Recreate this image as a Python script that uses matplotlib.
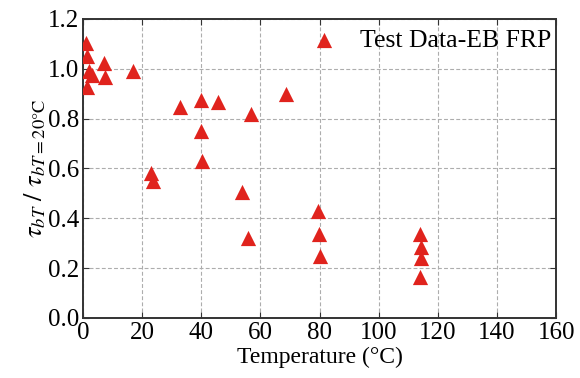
import matplotlib.pyplot as plt
import numpy as np

plt.rcParams['font.family'] = 'Liberation Serif'
plt.rcParams['mathtext.fontset'] = 'stix'

# test data
temperature = [1.2, 1.4, 2.0, 2.9, 1.4, 7.2, 7.4, 16.8, 22.9, 23.6, 32.8,
               39.8, 45.6, 56.7, 68.7, 39.8, 40.2, 53.9, 55.9,
               79.4, 79.9, 80.2, 114.0, 114.3, 114.3, 114.0]
bond_ratio = [1.105, 1.05, 0.99, 0.975, 0.925, 1.025, 0.965, 0.99, 0.58, 0.55, 0.845,
              0.875, 0.865, 0.82, 0.90, 0.75, 0.63, 0.505, 0.32,
              0.43, 0.335, 0.25, 0.335, 0.285, 0.24, 0.165]

fig = plt.figure(figsize=(5.8, 3.78), dpi=100)
ax = fig.add_axes([0.143, 0.159, 0.816, 0.791])

ax.scatter(temperature, bond_ratio, marker='^', s=120, color='#e0231d',
           linewidths=0, label='Test Data-EB FRP', zorder=3)

ax.set_xlim(0, 160)
ax.set_ylim(0, 1.2)
ax.set_xticks(np.arange(0, 161, 20))
ax.set_yticks(np.arange(0, 1.21, 0.2))
ax.set_yticklabels(['%.1f' % v for v in np.arange(0, 1.21, 0.2)])
ax.grid(True, linestyle=(0, (3.5, 2)), color='#adadad', linewidth=0.8)
ax.tick_params(direction='in', top=True, right=True, labelsize=18, length=4,
               color='#333333', pad=3)
for sp in ax.spines.values():
    sp.set_linewidth(1.4)
    sp.set_color('#333333')

ax.set_xlabel('Temperature (°C)', fontsize=17, labelpad=2)
ax.set_ylabel(r'$\tau_{bT}\ /\ \tau_{bT=20°\mathrm{C}}$', fontsize=19, labelpad=0)

ax.legend(loc='upper right', bbox_to_anchor=(1.0, 0.985), frameon=False,
          fontsize=18.5, handletextpad=0.4, borderaxespad=0.0, borderpad=0.2)

fig.savefig('out.png', dpi=100)
